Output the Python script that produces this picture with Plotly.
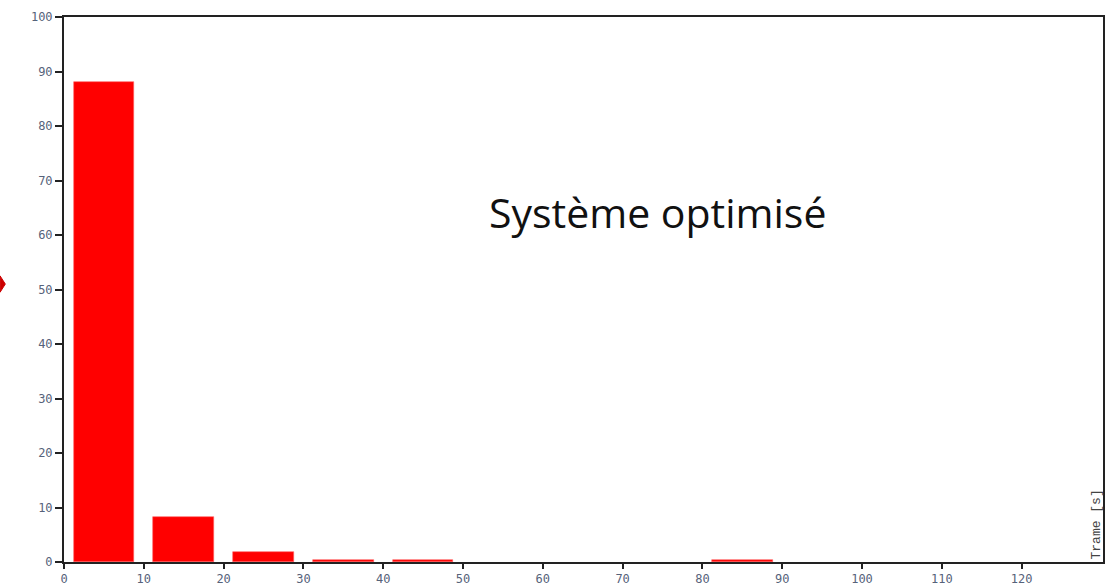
import plotly.graph_objects as go

bin_centers = [5, 15, 25, 35, 45, 55, 65, 75, 85, 95, 105, 115, 125]
percent = [88.0, 8.3, 1.9, 0.4, 0.4, 0, 0, 0, 0.4, 0, 0, 0, 0]
x_ticks = [0, 10, 20, 30, 40, 50, 60, 70, 80, 90, 100, 110, 120]
y_ticks = [0, 10, 20, 30, 40, 50, 60, 70, 80, 90, 100]
annotation_text = "Système optimisé"
x_title = "Trame [s]"

tick_font = dict(family="DejaVu Sans Mono", size=12, color="#56627a")

bar_y = [v if v > 0 else None for v in percent]

fig = go.Figure()
fig.add_trace(go.Bar(
    x=bin_centers, y=bar_y, width=7.6,
    marker=dict(color="#ff0000", line=dict(color="#ff6060", width=0.6)),
    hoverinfo="x+y",
))

fig.update_layout(
    width=1113, height=586,
    margin=dict(l=64, r=10, t=17, b=24, autoexpand=False),
    plot_bgcolor="white", paper_bgcolor="white",
    showlegend=False, bargap=0,
    xaxis=dict(range=[0, 130.2], tickvals=x_ticks, showgrid=False, zeroline=False,
               showline=True, linecolor="#222", linewidth=2, mirror=True,
               ticks="outside", ticklen=5, tickcolor="#222", tickwidth=1.5,
               tickfont=tick_font, automargin=False, ticklabelstandoff=0),
    yaxis=dict(range=[0, 100], tickvals=y_ticks, showgrid=False, zeroline=False,
               showline=True, linecolor="#222", linewidth=2, mirror=True,
               ticks="outside", ticklen=7, tickcolor="#222", tickwidth=1.5,
               tickfont=tick_font, automargin=False),
    annotations=[
        dict(text=annotation_text, x=(657 - 64) / 1039, y=(562 - 212) / 545,
             xref="paper", yref="paper",
             showarrow=False, font=dict(family="Open Sans", size=41, color="#111"),
             xanchor="center", yanchor="middle"),
        dict(text=x_title, x=1.0, y=0.0, xref="paper", yref="paper",
             showarrow=False, textangle=-90, xanchor="right", yanchor="bottom",
             xshift=2, yshift=0,
             font=dict(family="Liberation Mono", size=13, color="#444")),
    ],
    shapes=[
        dict(type="path", xref="paper", yref="paper",
             path="M -0.0615 0.525 L -0.0565 0.51 L -0.0615 0.495 Z",
             fillcolor="#cc0000", line=dict(color="#cc0000", width=1)),
    ],
)

fig.write_html("out.html", config={"displayModeBar": False},
               post_script="document.body.style.margin='0';document.body.style.overflow='hidden';")
